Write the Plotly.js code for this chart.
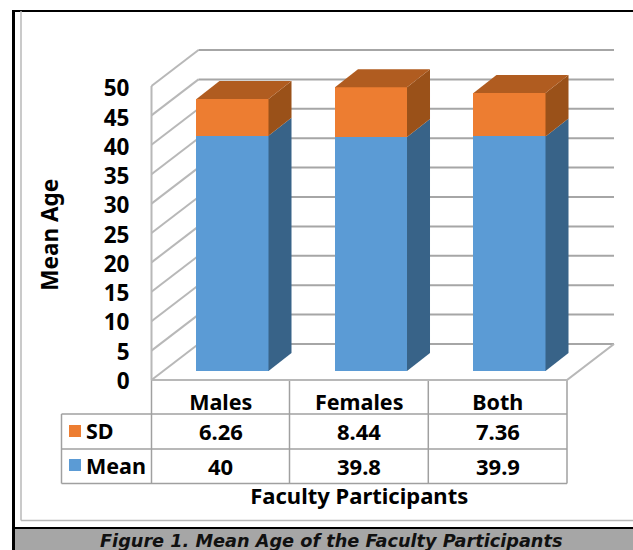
<!DOCTYPE html>
<html>
<head>
<meta charset="utf-8">
<script src="https://cdn.plot.ly/plotly-3.0.1.min.js"></script>
<style>html,body{margin:0;padding:0;background:#fff}#chart{width:633px;height:550px}</style>
</head>
<body>
<div id="chart"></div>
<script>
// Chart content
const categories = ['Males', 'Females', 'Both'];
const meanValues = [40, 39.8, 39.9];
const sdValues = [6.26, 8.44, 7.36];
const meanText = ['40', '39.8', '39.9'];
const sdText = ['6.26', '8.44', '7.36'];
const yTicks = [0, 5, 10, 15, 20, 25, 30, 35, 40, 45, 50];

// Page size and pseudo-3D box geometry, in pixels
const W = 633, H = 550;
const boxLeft = 151.5, boxRight = 567, boxBottom = 380, boxTop = 86;
const pxPerCat = (boxRight - boxLeft) / 3;
const pxPerVal = (boxBottom - boxTop) / 50;
const depthX = 47 / pxPerCat, depthY = 36 / pxPerVal;     // full floor depth, in axis units
const barShiftPx = [11.75, 9];                             // bars sit a quarter into the floor
const barDepthX = 23 / pxPerCat, barDepthY = 18 / pxPerVal;
const barWidth = 0.52;
const labelBottom = 381, labelTop = 88.5;                  // tick labels sit just below their lines

const BLUE = '#5b9bd5', BLUE_SIDE = '#386388';
const ORANGE = '#ed7d31', ORANGE_SIDE = '#9a5119', ORANGE_TOP = '#b05c20';
const GRID = '#a6a6a6', WALL = '#b8b8b8', TABLE = '#a0a0a0';
const FONT = 'Noto Sans, sans-serif';
const CAPTION_FONT = 'DejaVu Sans, sans-serif';
const TXT = '#000';
const LABEL_SIZE = 21.5;

const px = v => v / W, py = v => 1 - v / H;

// Wall and floor lines of the box, on a full-page axis pair that shares the value scale
const traces = [];
const wireframe = (x, y, color, width) => traces.push({
  type: 'scatter', mode: 'lines', x, y, xaxis: 'x', yaxis: 'y',
  line: {color, width}, hoverinfo: 'skip', showlegend: false
});
yTicks.forEach(v => {
  wireframe([-0.5, -0.5 + depthX], [v, v + depthY], WALL, 2);
  wireframe([-0.5 + depthX, 2.5 + depthX], [v + depthY, v + depthY], GRID, 2);
});
wireframe([-0.5, -0.5], [0, 50], WALL, 2);
wireframe([-0.5, 2.5, 2.5 + depthX], [0, 0, depthY], WALL, 2.2);

// Stacked bars: the front faces
const catIndex = categories.map((_, i) => i);
traces.push({type: 'bar', name: 'Mean', x: catIndex, y: meanValues, width: barWidth,
  xaxis: 'x2', yaxis: 'y2', marker: {color: BLUE, line: {width: 0}}, showlegend: false});
traces.push({type: 'bar', name: 'SD', x: catIndex, y: sdValues, width: barWidth,
  xaxis: 'x2', yaxis: 'y2', marker: {color: ORANGE, line: {width: 0}}, showlegend: false});

// Side and top faces derived from the same values
const face = (x, y, color) => traces.push({
  type: 'scatter', mode: 'lines', x, y, xaxis: 'x2', yaxis: 'y2', fill: 'toself',
  fillcolor: color, line: {width: 0, color}, hoverinfo: 'skip', showlegend: false
});
catIndex.forEach(i => {
  const r = i + barWidth / 2, l = i - barWidth / 2;
  const m = meanValues[i], t = m + sdValues[i];
  face([r, r + barDepthX, r + barDepthX, r], [0, barDepthY, m + barDepthY, m], BLUE_SIDE);
  face([r, r + barDepthX, r + barDepthX, r], [m, m + barDepthY, t + barDepthY, t], ORANGE_SIDE);
  face([l, l + barDepthX, r + barDepthX, r], [t, t + barDepthY, t + barDepthY, t], ORANGE_TOP);
});

// Page frame, caption band and data table rules
const rect = (x0, y0, x1, y1, fill) => ({type: 'rect', xref: 'paper', yref: 'paper', layer: 'below',
  x0: px(x0), x1: px(x1), y0: py(y0), y1: py(y1), fillcolor: fill, line: {width: 0}});
const rule = (x0, y0, x1, y1, color, width) => ({type: 'line', xref: 'paper', yref: 'paper', layer: 'below',
  x0: px(x0), x1: px(x1), y0: py(y0), y1: py(y1), line: {color, width}});
const tableCols = [boxLeft, 289.5, 428.3, boxRight];
const rowLines = [414, 449, 483.5];
const shapes = [
  rect(14, 528, W, H, '#a6a6a6'),
  rect(12, 10, 15, H, '#000'),
  rect(12, 10, W, 12, '#000'),
  rect(14, 527, W, 529, '#000'),
  rule(21, 11, 21, 520.5, '#b8b8b8', 1.5),
  rule(21, 520.5, W, 520.5, '#b8b8b8', 1.5),
  rule(61.5, rowLines[0], boxRight, rowLines[0], TABLE, 1.5),
  rule(61.5, rowLines[1], boxRight, rowLines[1], TABLE, 1.5),
  rule(61.5, rowLines[2], boxRight, rowLines[2], TABLE, 1.5),
  rule(61.5, rowLines[0], 61.5, rowLines[2], TABLE, 1.5),
  ...tableCols.map(x => rule(x, boxBottom, x, rowLines[2], TABLE, 1.5)),
  rect(69, 425, 81, 437, ORANGE),
  rect(69, 459, 81, 471, BLUE)
];

// Data table text
const cell = (text, xval, yPx) => ({text, x: xval, xref: 'x3', y: py(yPx), yref: 'paper',
  showarrow: false, xanchor: 'center', yanchor: 'middle',
  font: {family: FONT, size: LABEL_SIZE + 0.5, color: TXT, weight: 700}});
const rowLabel = (text, yPx) => ({text, x: px(84), xref: 'paper', y: py(yPx), yref: 'paper',
  showarrow: false, xanchor: 'left', yanchor: 'middle',
  font: {family: FONT, size: LABEL_SIZE, color: TXT, weight: 700}});
const annotations = [
  rowLabel('SD', 430),
  rowLabel('Mean', 465),
  ...sdText.map((t, i) => cell(t, i, 431)),
  ...meanText.map((t, i) => cell(t, i, 466)),
  {text: '<b><i>Figure 1. Mean Age of the Faculty Participants</i></b>',
   x: px(331), xref: 'paper', y: py(541), yref: 'paper', showarrow: false,
   xanchor: 'center', yanchor: 'middle', font: {family: CAPTION_FONT, size: 17.7, color: '#111'}}
];

const layout = {
  width: W, height: H,
  margin: {l: 0, r: 0, t: 0, b: 0},
  paper_bgcolor: '#fff', plot_bgcolor: 'rgba(0,0,0,0)',
  barmode: 'stack', showlegend: false,
  font: {family: FONT, color: TXT},
  // Wireframe axes span the page
  xaxis: {
    domain: [0, 1], anchor: 'y', visible: false,
    range: [-0.5 - boxLeft / pxPerCat, -0.5 + (W - boxLeft) / pxPerCat]
  },
  yaxis: {
    domain: [0, 1], anchor: 'x', visible: false,
    range: [-(H - boxBottom) / pxPerVal, boxBottom / pxPerVal]
  },
  // Bar plane sits slightly inside the floor
  xaxis2: {
    domain: [px(boxLeft + barShiftPx[0]), 1],
    range: [-0.5, -0.5 + (W - boxLeft - barShiftPx[0]) / pxPerCat],
    anchor: 'y2', visible: false
  },
  yaxis2: {
    domain: [py(boxBottom - barShiftPx[1]), 1],
    range: [0, (boxBottom - barShiftPx[1]) / pxPerVal],
    anchor: 'x2', visible: false
  },
  // Labelled axes on the front plane of the box
  xaxis3: {
    domain: [px(boxLeft), px(boxRight)], range: [-0.5, 2.5], anchor: 'y3',
    tickmode: 'array', tickvals: catIndex, ticktext: categories,
    showgrid: false, zeroline: false, showline: false, ticks: '',
    ticklabelstandoff: 6,
    tickfont: {family: FONT, size: LABEL_SIZE, color: TXT, weight: 700},
    title: {text: 'Faculty Participants', standoff: 74,
            font: {family: FONT, size: 22, color: TXT, weight: 700}}
  },
  yaxis3: {
    domain: [py(labelBottom), py(labelTop)], range: [0, 50], anchor: 'x3',
    tickmode: 'array', tickvals: yTicks,
    showgrid: false, zeroline: false, showline: false, ticks: '',
    ticklabelstandoff: 21,
    tickfont: {family: FONT, size: 22.5, color: TXT, weight: 700},
    title: {text: 'Mean Age', standoff: 38,
            font: {family: FONT, size: 22.5, color: TXT, weight: 700}}
  },
  shapes, annotations
};

Plotly.newPlot('chart', traces, layout, {displayModeBar: false, staticPlot: true});
</script>
</body>
</html>
